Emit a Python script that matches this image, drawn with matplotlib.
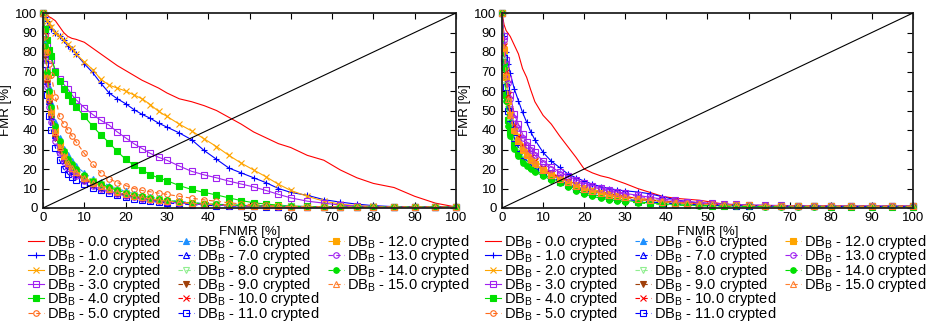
import matplotlib
matplotlib.use("Agg")
import matplotlib.pyplot as plt

plt.rcParams['font.family'] = ['Liberation Sans', 'DejaVu Sans']
plt.rcParams['mathtext.fontset'] = 'custom'
plt.rcParams['mathtext.rm'] = 'Liberation Sans'
plt.rcParams['mathtext.it'] = 'Liberation Sans:italic'

# FNMR sample points shared by every curve [%]
fnmr = [0, 0.5, 1, 1.5, 2, 3, 4, 5, 6, 7, 8, 10, 12, 14, 16, 18, 20, 22, 24, 26, 28,
        30, 33, 36, 39, 42, 45, 48, 51, 54, 57, 60, 64, 68, 72, 76, 80, 85, 90, 95, 100]

crypted = [0.0, 1.0, 2.0, 3.0, 4.0, 5.0, 6.0, 7.0, 8.0, 9.0, 10.0, 11.0, 12.0, 13.0, 14.0, 15.0]

# ---- left plot: FMR [%] per crypted level
left_00 = [100, 99.5, 99, 98, 97.5, 96, 93, 90, 88, 87, 86.5, 85, 82, 79, 76, 73, 70.5, 68, 65.5, 63.5, 61.5,
           59, 56, 54.5, 52.5, 50, 46.5, 43, 39, 36, 33, 31, 27, 24.5, 19.5, 15.5, 12.6, 10.5, 6, 2.5, 0.5]
left_01 = [100, 98, 96, 94, 92, 90, 88, 86, 83, 81.5, 79, 74, 69.5, 64, 59, 56, 53.5, 50.5, 48, 46, 43.5,
           41.5, 38.5, 35, 29.5, 25, 20.5, 18, 15.5, 13, 10, 8, 6.5, 4.3, 3, 2, 1.2, 0.7, 0.5, 0.5, 0.5]
left_02 = [100, 98, 96, 95, 93, 90, 88, 86, 84, 82, 79, 75, 71, 66, 63, 61.5, 60, 58, 56, 53, 49.5,
           47, 43, 39.5, 35.5, 31.5, 27, 23, 19.5, 16, 12.2, 9, 6, 3.5, 2, 1.2, 0.8, 0.5, 0.5, 0.5, 0.5]
left_03 = [100, 90, 84, 79, 76, 70.5, 66, 63.5, 61, 58, 55.5, 51.5, 48, 45, 42.5, 39, 36, 33, 30.5, 28, 26,
           24.5, 21.5, 18.8, 17, 15.5, 13.8, 12.3, 10.8, 9, 7, 5.2, 3.5, 2.5, 1.5, 1, 0.7, 0.5, 0.5, 0.5, 0.5]
left_04 = [100, 92, 86, 81, 78, 70, 65, 61, 58, 55, 52, 47, 42, 37.5, 33.5, 29, 25, 22, 19.5, 17, 15.5,
           14, 11.5, 9.5, 8, 6.7, 5.2, 3.8, 2.7, 2, 1.5, 1, 0.8, 0.6, 0.5, 0.5, 0.5, 0.5, 0.5, 0.5, 0.5]
left_05 = [100, 88, 80, 74, 68, 57, 47, 43, 40, 37, 34, 28, 22.5, 18, 15, 13, 11.5, 10, 9, 8.3, 7.6,
           7, 6, 5, 4.2, 3.4, 2.7, 2.1, 1.7, 1.3, 1.1, 0.9, 0.7, 0.6, 0.5, 0.5, 0.5, 0.5, 0.5, 0.5, 0.5]
left_06 = [100, 84, 71, 62, 54, 44, 36, 30.5, 27, 24, 21.5, 18, 15, 13.5, 11.5, 10, 8.5, 7.3, 6.3, 5.5, 4.9,
           4.2, 3.4, 2.8, 2.3, 1.9, 1.7, 1.4, 1.2, 1.1, 1, 0.9, 0.75, 0.65, 0.6, 0.55, 0.5, 0.5, 0.45, 0.45, 0.4]
left_07 = [100, 79, 65, 55, 47, 37.5, 30.5, 25.5, 22, 19.5, 17.5, 14.5, 12.2, 10.7, 9.2, 7.8, 6.8, 5.9, 5.1, 4.4, 3.9,
           3.3, 2.7, 2.2, 1.8, 1.5, 1.3, 1.1, 0.95, 0.85, 0.75, 0.65, 0.6, 0.55, 0.5, 0.5, 0.45, 0.45, 0.4, 0.4, 0.4]
left_08 = [100, 82, 69, 59, 51, 41, 34, 28.5, 24.5, 22, 19.5, 16.5, 13.8, 12.2, 10.5, 9, 7.8, 6.7, 5.8, 5, 4.4,
           3.8, 3.1, 2.6, 2.1, 1.8, 1.5, 1.3, 1.1, 1, 0.9, 0.8, 0.7, 0.6, 0.55, 0.5, 0.5, 0.45, 0.45, 0.4, 0.4]
left_09 = [100, 78, 64, 54, 46, 36, 29.5, 24.5, 21.5, 19, 17, 14.2, 11.8, 10.4, 9, 7.6, 6.6, 5.7, 4.9, 4.3, 3.8,
           3.2, 2.6, 2.2, 1.8, 1.5, 1.3, 1.1, 0.95, 0.85, 0.75, 0.65, 0.6, 0.5, 0.5, 0.45, 0.45, 0.4, 0.4, 0.4, 0.4]
left_10 = [100, 80, 66, 56, 48, 38.5, 31, 26, 22.5, 20, 18, 15, 12.5, 11, 9.6, 8.1, 7, 6.1, 5.3, 4.6, 4,
           3.5, 2.9, 2.4, 2, 1.7, 1.4, 1.2, 1, 0.9, 0.8, 0.7, 0.6, 0.55, 0.5, 0.5, 0.5, 0.45, 0.45, 0.4, 0.4]
left_11 = [100, 74, 58, 47, 40, 31, 24.5, 20, 17.5, 15.8, 14.5, 12.5, 10.5, 9, 7.8, 6.5, 5.4, 4.6, 3.9, 3.4, 3,
           2.6, 2.1, 1.7, 1.4, 1.2, 1, 0.9, 0.8, 0.7, 0.6, 0.55, 0.5, 0.45, 0.4, 0.4, 0.4, 0.35, 0.35, 0.3, 0.3]
left_12 = [100, 81, 68, 58, 50, 40, 32.5, 27, 23.5, 21, 19, 15.8, 13.2, 11.6, 10, 8.6, 7.4, 6.4, 5.5, 4.8, 4.2,
           3.6, 3, 2.5, 2, 1.7, 1.5, 1.3, 1.1, 0.95, 0.85, 0.75, 0.65, 0.6, 0.55, 0.5, 0.5, 0.45, 0.45, 0.4, 0.4]
left_13 = [100, 77, 62, 52, 44, 34.5, 28, 23.5, 20.5, 18.2, 16.4, 13.6, 11.3, 9.9, 8.5, 7.2, 6.2, 5.4, 4.6, 4, 3.6,
           3.1, 2.5, 2.1, 1.7, 1.4, 1.2, 1, 0.9, 0.8, 0.7, 0.6, 0.55, 0.5, 0.45, 0.45, 0.4, 0.4, 0.4, 0.35, 0.35]
left_14 = [100, 83, 70, 60, 52, 42, 34.5, 29, 25, 22.5, 20, 16.8, 14, 12.4, 10.6, 9.1, 7.9, 6.8, 5.9, 5.1, 4.5,
           3.9, 3.2, 2.6, 2.2, 1.8, 1.6, 1.3, 1.1, 1, 0.9, 0.8, 0.7, 0.6, 0.55, 0.5, 0.5, 0.45, 0.45, 0.4, 0.4]
left_15 = [100, 80, 67, 57, 49, 39, 31.5, 26.5, 23, 20.5, 18.5, 15.3, 12.8, 11.3, 9.8, 8.3, 7.2, 6.2, 5.4, 4.7, 4.1,
           3.5, 2.9, 2.4, 2, 1.7, 1.4, 1.2, 1, 0.9, 0.8, 0.7, 0.6, 0.55, 0.5, 0.5, 0.45, 0.45, 0.4, 0.4, 0.4]

# ---- right plot: FMR [%] per crypted level
right_00 = [100, 94, 91, 89.5, 88, 83.5, 79, 71.5, 67, 60.5, 54.5, 47.5, 43, 37, 31.5, 26, 20, 18, 16.5, 15.5, 14,
            12.5, 10, 8, 6, 5, 4.5, 4, 3, 2, 1.5, 1.2, 1, 0.8, 0.7, 0.6, 0.6, 0.5, 0.5, 0.5, 0.5]
right_01 = [100, 88, 80, 74, 69, 61, 55, 49, 44, 39, 35, 28.5, 24, 20.8, 17.5, 15.5, 13.8, 12.2, 11, 10, 9.3,
            8.8, 8.2, 7.3, 5.8, 4.3, 3.3, 2.6, 2, 1.6, 1.3, 1.1, 1, 0.9, 0.8, 0.8, 0.7, 0.7, 0.7, 0.7, 0.7]
right_02 = [100, 84, 71, 59, 51, 43, 37.5, 33, 29.5, 27, 24.5, 21, 18.2, 16, 14, 12.4, 10.9, 9.6, 8.5, 7.5, 6.7,
            5.9, 5, 4.3, 3.6, 3.1, 2.6, 2.3, 2, 1.7, 1.5, 1.4, 1.3, 1.2, 1.1, 1, 1, 1, 0.9, 0.9, 0.9]
right_03 = [100, 88, 76, 66, 58, 48, 43, 38, 34, 31, 28.5, 24, 21, 18.5, 16.5, 14.5, 12.8, 11.5, 10.3, 9.3, 8.3,
            7.5, 6.5, 5.5, 4.6, 3.9, 3.3, 2.8, 2.4, 2.1, 1.8, 1.6, 1.4, 1.3, 1.2, 1.1, 1.1, 1, 1, 1, 1]
right_04 = [100, 75, 58, 45, 39, 32.5, 28, 25, 23, 21, 19.5, 17.3, 15.3, 13.5, 11.6, 9.9, 8.3, 7, 6, 5.2, 4.5,
            3.9, 3.2, 2.6, 2.2, 1.8, 1.5, 1.3, 1.2, 1.1, 1, 0.9, 0.9, 0.8, 0.8, 0.8, 0.7, 0.7, 0.7, 0.7, 0.7]
right_05 = [100, 82, 68, 56, 48.5, 40.5, 35, 31, 27.8, 25.2, 23.2, 19.8, 17.2, 15.1, 13.2, 11.6, 10.1, 8.9, 7.9, 7, 6.2,
            5.5, 4.7, 4, 3.4, 2.9, 2.5, 2.1, 1.8, 1.6, 1.4, 1.3, 1.2, 1.1, 1, 1, 1, 0.9, 0.9, 0.9, 0.9]
right_06 = [100, 81, 67, 55, 47.5, 40, 34.5, 30.5, 27.5, 25, 23, 19.5, 17, 15, 13, 11.4, 10, 8.8, 7.8, 6.9, 6.1,
            5.4, 4.6, 3.9, 3.3, 2.8, 2.4, 2.1, 1.8, 1.6, 1.4, 1.3, 1.2, 1.1, 1, 1, 1, 0.9, 0.9, 0.9, 0.9]
right_07 = [100, 82, 68, 56, 48, 40, 35, 30.5, 27.5, 25, 23, 19.5, 17, 14.8, 12.9, 11.3, 9.9, 8.7, 7.7, 6.8, 6,
            5.3, 4.5, 3.8, 3.2, 2.7, 2.3, 2, 1.7, 1.5, 1.4, 1.3, 1.2, 1.1, 1, 1, 0.9, 0.9, 0.9, 0.9, 0.9]
right_08 = [100, 78, 63, 51, 44, 36.5, 31.5, 27.5, 24.7, 22.6, 20.9, 18.1, 16.2, 14.3, 12.5, 10.9, 9.4, 8.2, 7.1, 6.2, 5.4,
            4.7, 3.9, 3.3, 2.8, 2.3, 2, 1.7, 1.5, 1.3, 1.2, 1.1, 1, 0.9, 0.9, 0.9, 0.8, 0.8, 0.8, 0.8, 0.8]
right_09 = [100, 80, 66, 54, 47, 39.5, 34, 30, 27, 24.5, 22.5, 19.2, 16.7, 14.6, 12.7, 11.1, 9.7, 8.5, 7.5, 6.6, 5.9,
            5.2, 4.4, 3.7, 3.1, 2.7, 2.3, 2, 1.7, 1.5, 1.4, 1.3, 1.2, 1.1, 1, 1, 0.9, 0.9, 0.9, 0.9, 0.9]
right_10 = [100, 83, 70, 58, 50, 42, 36.5, 32, 28.8, 26, 24, 20.5, 17.8, 15.6, 13.6, 12, 10.5, 9.3, 8.2, 7.3, 6.5,
            5.8, 4.9, 4.2, 3.5, 3, 2.6, 2.2, 1.9, 1.7, 1.5, 1.3, 1.2, 1.1, 1, 1, 1, 0.9, 0.9, 0.9, 0.9]
right_11 = [100, 77, 62, 50, 43, 36, 31, 27, 24.3, 22.2, 20.5, 17.9, 15.9, 14, 12.2, 10.5, 9, 7.8, 6.8, 5.9, 5.1,
            4.5, 3.7, 3.1, 2.6, 2.2, 1.9, 1.6, 1.4, 1.3, 1.2, 1.1, 1, 0.9, 0.9, 0.9, 0.8, 0.8, 0.8, 0.8, 0.8]
right_12 = [100, 81, 67, 55, 47.5, 39.5, 34.5, 30, 27, 24.8, 22.8, 19.3, 16.8, 14.7, 12.8, 11.2, 9.8, 8.6, 7.6, 6.7, 5.9,
            5.2, 4.4, 3.7, 3.2, 2.7, 2.3, 2, 1.7, 1.5, 1.4, 1.3, 1.2, 1.1, 1, 1, 1, 0.9, 0.9, 0.9, 0.9]
right_13 = [100, 86, 74, 64, 56, 46, 41, 36, 32.5, 29.5, 27, 23, 20, 17.5, 15.5, 13.7, 12, 10.8, 9.7, 8.7, 7.8,
            7, 6, 5.1, 4.3, 3.6, 3.1, 2.6, 2.2, 1.9, 1.7, 1.5, 1.3, 1.2, 1.1, 1.1, 1, 1, 1, 1, 1]
right_14 = [100, 72, 55, 42, 37, 30.5, 26.5, 23, 21.5, 19.8, 18.5, 16.5, 14.3, 12.6, 10.6, 8.8, 7.2, 6, 5, 4.3, 3.7,
            3.2, 2.6, 2.2, 1.8, 1.5, 1.3, 1.1, 1, 0.9, 0.8, 0.8, 0.7, 0.7, 0.7, 0.7, 0.6, 0.6, 0.6, 0.6, 0.6]
right_15 = [100, 82, 68, 56, 48, 40, 35, 30.8, 27.7, 25.3, 23.2, 19.7, 17.1, 15, 13.1, 11.5, 10, 8.8, 7.8, 6.9, 6.1,
            5.4, 4.6, 3.9, 3.3, 2.8, 2.4, 2.1, 1.8, 1.6, 1.4, 1.3, 1.2, 1.1, 1, 1, 1, 0.9, 0.9, 0.9, 0.9]

left_curves = [left_00, left_01, left_02, left_03, left_04, left_05, left_06, left_07,
               left_08, left_09, left_10, left_11, left_12, left_13, left_14, left_15]
right_curves = [right_00, right_01, right_02, right_03, right_04, right_05, right_06, right_07,
                right_08, right_09, right_10, right_11, right_12, right_13, right_14, right_15]

# gnuplot-like line styles
colors = ['#ff0000', '#0000ff', '#ffa500', '#a020f0', '#00e000', '#ff6a1a', '#1e90ff', '#0000ff',
          '#90ee90', '#a0400a', '#ff0000', '#0000ff', '#ffa500', '#a020f0', '#00e000', '#ff8030']
markers = [None, '+', 'x', 's', 's', 'o', '^', '^', 'v', 'v', 'x', 's', 's', 'o', 'o', '^']
filled = [False, False, False, False, True, False, True, False,
          False, True, False, False, True, False, True, False]


def draw(ax, curves):
    lines = []
    for i, fmr in enumerate(curves):
        ls = '-' if i < 5 else (0, (4, 3))
        mfc = colors[i] if filled[i] else 'none'
        ln, = ax.plot(fnmr, fmr, color=colors[i], ls=ls, lw=0.8,
                      marker=markers[i], ms=4, mew=0.8, mfc=mfc, clip_on=False,
                      label='DB$_\\mathregular{B}$ - %.1f crypted' % crypted[i])
        lines.append(ln)
    ax.plot([0, 100], [0, 100], color='black', lw=0.8, zorder=5)
    ax.set_xlim(0, 100)
    ax.set_ylim(0, 100)
    ax.set_xticks(range(0, 101, 10))
    ax.set_yticks(range(0, 101, 10))
    ax.tick_params(direction='in', top=True, right=True, length=4, width=0.8,
                   labelsize=9.5, pad=3)
    ax.tick_params(axis='y', pad=4)
    for sp in ax.spines.values():
        sp.set_linewidth(1.3)
        sp.set_color('#222222')
    ax.set_xlabel('FNMR [%]', fontsize=9.5, labelpad=1)
    ax.set_ylabel('FMR [%]', fontsize=9.5, labelpad=2)
    return lines


fig = plt.figure(figsize=(9.29, 3.23), dpi=100)
W, H = 929, 323
ax_l = fig.add_axes([43 / W, 1 - 208 / H, 413 / W, 195 / H])
ax_r = fig.add_axes([502 / W, 1 - 208 / H, 411 / W, 195 / H])

lines_l = draw(ax_l, left_curves)
lines_r = draw(ax_r, right_curves)

# legends: three fixed-width columns under each plot
for lines, x0 in [(lines_l, 28), (lines_r, 485)]:
    for c, start in enumerate([0, 6, 12]):
        hs = lines[start:start + 6]
        leg = fig.legend(hs, [h.get_label() for h in hs], loc='upper left',
                         bbox_to_anchor=((x0 + 150 * c) / W, 1 - 233 / H),
                         bbox_transform=fig.transFigure, frameon=False,
                         fontsize=10.5, borderpad=0, borderaxespad=0,
                         handlelength=1.1, handletextpad=0.2, labelspacing=-0.25,
                         numpoints=1)

fig.savefig('out.png', dpi=100)
